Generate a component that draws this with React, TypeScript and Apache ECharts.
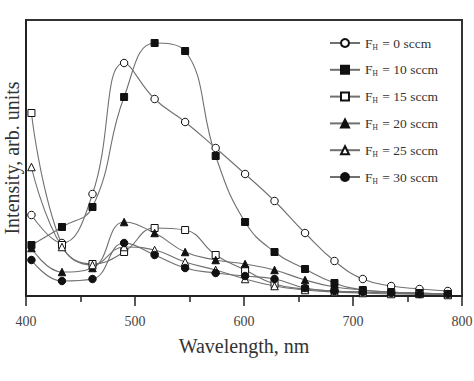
import React, { useEffect, useRef } from "react";
import * as echarts from "echarts";

const wavelengths = [405, 433, 461, 490, 518, 546, 574, 601, 628, 656, 683, 709, 735, 761, 787];
const f0 = [81, 53, 102, 233, 197, 174, 148, 122, 95, 63, 35, 17, 10, 7, 5];
const f10 = [51, 69, 89, 199, 253, 245, 140, 74, 44, 27, 13, 6, 4, 3, 2];
const f15 = [183, 51, 32, 44, 68, 66, 41, 26, 12, 7, 5, 4, 3, 2, 2];
const f20 = [48, 24, 28, 74, 63, 44, 36, 32, 26, 16, 9, 6, 4, 3, 2];
const f25 = [129, 49, 31, 49, 46, 34, 26, 17, 10, 6, 4, 3, 2, 2, 1];
const f30 = [36, 15, 17, 53, 41, 28, 23, 20, 17, 8, 5, 4, 3, 2, 2];

const flows = ["0", "10", "15", "20", "25", "30"];
const seriesValues = [f0, f10, f15, f20, f25, f30];
const symbols = ["circle", "rect", "rect", "triangle", "triangle", "circle"];
const filled = [false, true, false, true, false, true];

const FONT = "Liberation Serif";

export default function App() {
  const ref = useRef<HTMLDivElement>(null);
  useEffect(() => {
    if (!ref.current) return;
    const chart = echarts.init(ref.current, null, { renderer: "svg" });
    const series = flows.map((f, i) => ({
      name: "FH = " + f + " sccm",
      type: "line",
      smooth: 0.45,
      data: wavelengths.map((w, j) => [w, seriesValues[i][j]]),
      symbol: symbols[i],
      symbolSize: symbols[i] === "rect" ? 7 : 7.5,
      showSymbol: true,
      lineStyle: { color: "#707070", width: 1.1 },
      itemStyle: {
        color: filled[i] ? "#111" : "#fff",
        borderColor: "#111",
        borderWidth: 1,
      },
      z: 3,
    }));
    chart.setOption({
      animation: false,
      backgroundColor: "#fff",
      grid: {
        left: 26,
        right: 12,
        top: 20,
        bottom: 85,
        show: true,
        borderColor: "#333",
        borderWidth: 2,
        backgroundColor: "transparent",
        containLabel: false,
        outerBoundsMode: "none",
      },
      legend: {
        orient: "vertical",
        left: 324,
        top: 31,
        itemWidth: 30,
        itemHeight: 10,
        itemGap: 11.8,
        data: series.map((s) => s.name),
        formatter: (name: string) => {
          const rest = name.slice(2);
          return "{f|F}{sub|H}{t|" + rest + "}";
        },
        textStyle: {
          fontFamily: FONT,
          color: "#333",
          fontSize: 13.5,
          rich: {
            f: { fontFamily: FONT, fontSize: 13.5, color: "#333" },
            sub: { fontFamily: FONT, fontSize: 7.5, color: "#333", verticalAlign: "bottom", padding: [8, 1, 0, 0] },
            t: { fontFamily: FONT, fontSize: 13.5, color: "#333" },
          },
        },
      },
      xAxis: {
        type: "value",
        min: 400,
        max: 800,
        interval: 100,
        name: "Wavelength, nm",
        nameLocation: "middle",
        nameGap: 40,
        nameTextStyle: { fontFamily: FONT, fontSize: 20, color: "#333" },
        axisLine: { lineStyle: { color: "#222", width: 2 } },
        axisTick: { show: true, inside: false, length: 10, lineStyle: { color: "#222", width: 1.5 } },
        minorTick: { show: true, splitNumber: 2, length: 6, lineStyle: { color: "#222", width: 1.5 } },
        axisLabel: { fontFamily: FONT, fontSize: 14, color: "#444", margin: 18 },
        splitLine: { show: false },
      },
      yAxis: {
        type: "value",
        min: 0,
        max: 276,
        name: "Intensity, arb. units",
        nameLocation: "middle",
        nameGap: 4,
        nameTextStyle: { fontFamily: FONT, fontSize: 20, color: "#333" },
        axisLine: { show: true, lineStyle: { color: "#222", width: 2 } },
        axisTick: { show: false },
        axisLabel: { show: false },
        splitLine: { show: false },
      },
      series,
    });
    return () => chart.dispose();
  }, []);
  return (
    <div
      ref={ref}
      style={{ position: "absolute", left: 0, top: 0, width: 474, height: 381 }}
    />
  );
}
